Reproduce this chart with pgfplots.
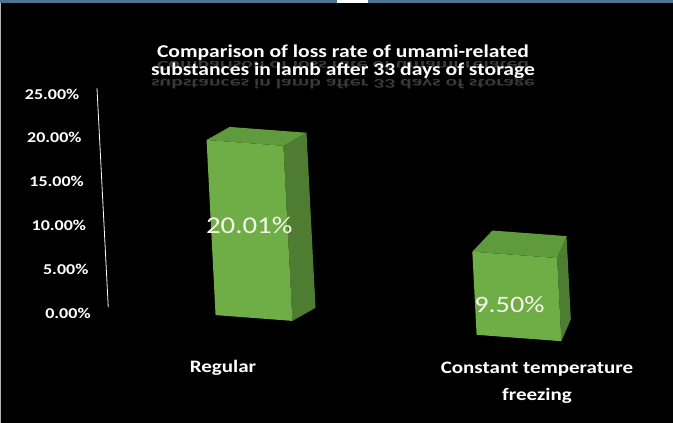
\documentclass[border=0pt]{standalone}
\usepackage{pgfplots}
\pgfplotsset{compat=1.18}
\usepackage{fontspec}
\setmainfont{Carlito}[FakeStretch=1.2]
\definecolor{frontg}{HTML}{6FAD47}
\definecolor{topg}{HTML}{5F9A3C}
\definecolor{sideg}{HTML}{4E7D32}
\definecolor{labelw}{HTML}{F6F8EC}
\definecolor{stripb}{HTML}{4F7393}
\begin{document}
\begin{tikzpicture}[x=1pt,y=1pt]
\fill[black] (0,0) rectangle (673,423);
\fill[stripb] (0,419.5) rectangle (673,423);
\fill[white] (337,419.5) rectangle (368,423);
\fill[gray!60] (0,0) rectangle (1.2,419.5);
% title with reflection
\node[text=gray!45!black,font=\bfseries\fontsize{18}{20}\selectfont,anchor=north,inner sep=0pt] at (343,364) {\scalebox{1}[-0.75]{Comparison of loss rate of umami-related}};
\node[text=gray!45!black,font=\bfseries\fontsize{18}{20}\selectfont,anchor=north,inner sep=0pt] at (343,346) {\scalebox{1}[-0.75]{substances in lamb after 33 days of storage}};
\node[text=white,font=\bfseries\fontsize{18}{20}\selectfont,anchor=base] at (343,365) {Comparison of loss rate of umami-related};
\node[text=white,font=\bfseries\fontsize{18}{20}\selectfont,anchor=base] at (343,347) {substances in lamb after 33 days of storage};
\begin{axis}[
  x={(265pt,-20pt)}, y={(-0.45pt,8.75pt)},
  anchor=origin, at={(254pt,105pt)},
  xmin=-0.55, xmax=1.8, ymin=0, ymax=25,
  clip=false,
  axis lines*=left,
  x axis line style={draw=none},
  y axis line style={white, line width=0.8pt, -},
  xtick=\empty,
  ytick={0,5,10,15,20,25},
  major tick length=0pt,
  yticklabel={\pgfmathprintnumber[fixed,fixed zerofill,precision=2]{\tick}\%},
  /pgf/number format/assume math mode=true,
  yticklabel style={text=white, font=\bfseries\fontsize{15}{17}\selectfont, xshift=-14pt, yshift=-8pt},
]
% Regular: 20.01
\addplot[draw=none, fill=sideg] coordinates {(0.145,0) (0.235,1.7) (0.235,21.71) (0.145,20.01)} -- cycle;
\addplot[draw=none, fill=topg] coordinates {(-0.145,20.01) (0.145,20.01) (0.235,21.71) (-0.055,21.71)} -- cycle;
\addplot[draw=none, fill=frontg] coordinates {(-0.145,0) (0.145,0) (0.145,20.01) (-0.145,20.01)} -- cycle;
% Constant temperature freezing: 9.50
\addplot[draw=none, fill=sideg] coordinates {(1.16,0) (1.2,2.6) (1.2,12.1) (1.16,9.50)} -- cycle;
\addplot[draw=none, fill=topg] coordinates {(0.84,9.50) (1.16,9.50) (1.2,12.1) (0.92,12.1)} -- cycle;
\addplot[draw=none, fill=frontg] coordinates {(0.84,0) (1.16,0) (1.16,9.50) (0.84,9.50)} -- cycle;
\node[text=labelw, font=\fontsize{24}{26}\selectfont] at (axis cs:0,10.6) {20.01\%};
\node[text=labelw, font=\fontsize{23.5}{26}\selectfont] at (axis cs:0.97,3.7) {9.50\%};
\end{axis}
\node[text=white, font=\bfseries\fontsize{17.5}{20}\selectfont] at (223,55) {Regular};
\node[text=white, font=\bfseries\fontsize{17.5}{20}\selectfont, align=center] at (537,40) {Constant temperature\\[7pt]freezing};
\pgfresetboundingbox
\path[use as bounding box] (0,0) rectangle (673,423);
\end{tikzpicture}
\end{document}
